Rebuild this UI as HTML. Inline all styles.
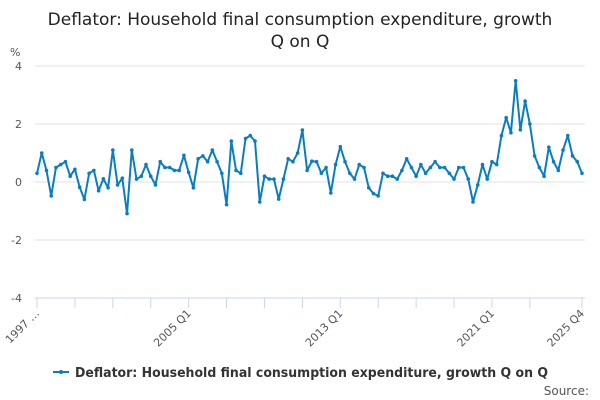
<!DOCTYPE html>
<html><head><meta charset="utf-8"><style>
html,body{margin:0;padding:0;background:#fff;width:600px;height:400px;overflow:hidden}
text{font-family:"DejaVu Sans","Liberation Sans",sans-serif}
</style></head><body>
<svg id="chart" width="600" height="400" xmlns="http://www.w3.org/2000/svg">
<text x="300" y="25" text-anchor="middle" font-size="17" fill="#222">Deflator: Household final consumption expenditure, growth</text>
<text x="300" y="47" text-anchor="middle" font-size="17" fill="#222">Q on Q</text>
<text x="10" y="56" font-size="11" fill="#555">%</text>
<g id="grid"></g><g id="xaxis"></g><g id="series"></g>
<g>
<line x1="53" y1="372" x2="69" y2="372" stroke="#0a7dc1" stroke-width="2"/>
<circle cx="61" cy="372" r="2" fill="#0a7dc1"/>
<text x="75" y="377" font-size="13" font-weight="bold" fill="#333" textLength="473" lengthAdjust="spacingAndGlyphs">Deflator: Household final consumption expenditure, growth Q on Q</text>
</g>
<text x="589" y="395" text-anchor="end" font-size="12" fill="#555">Source:</text>
</svg>
<script>
const values=[0.3,1.0,0.4,-0.48,0.5,0.6,0.7,0.2,0.44,-0.18,-0.6,0.3,0.4,-0.3,0.11,-0.2,1.1,-0.1,0.13,-1.09,1.1,0.1,0.2,0.6,0.2,-0.1,0.7,0.5,0.5,0.4,0.4,0.92,0.33,-0.2,0.8,0.9,0.7,1.1,0.7,0.3,-0.78,1.41,0.4,0.3,1.5,1.6,1.41,-0.69,0.2,0.1,0.1,-0.59,0.1,0.8,0.7,1.0,1.79,0.4,0.72,0.7,0.3,0.5,-0.38,0.6,1.22,0.7,0.3,0.1,0.6,0.5,-0.2,-0.4,-0.48,0.3,0.2,0.2,0.1,0.4,0.8,0.5,0.2,0.6,0.3,0.5,0.7,0.5,0.5,0.3,0.1,0.5,0.5,0.1,-0.69,-0.1,0.6,0.1,0.7,0.6,1.6,2.22,1.7,3.49,1.8,2.79,2.0,0.9,0.5,0.2,1.2,0.7,0.4,1.1,1.6,0.9,0.7,0.3];
const yTicks=[4,2,0,-2,-4];
const xLabels=[[0,"1997 \u2026"],[32,"2005 Q1"],[64,"2013 Q1"],[96,"2021 Q1"],[115,"2025 Q4"]];
const tickIdx=[0,8,16,24,32,40,48,56,64,72,80,88,96,104,115];
const NS="http://www.w3.org/2000/svg";
const x0=37,x1=582,yTop=66,yBot=298;
const xs=i=>x0+i*(x1-x0)/(values.length-1);
const ys=v=>yTop+(4-v)*(yBot-yTop)/8;
function mk(t,a,p){const e=document.createElementNS(NS,t);for(const k in a)e.setAttribute(k,a[k]);p.appendChild(e);return e;}
const grid=document.getElementById('grid');
yTicks.forEach(v=>{
 if(v!==-4){const l=mk('line',{x1:35,x2:585,y1:ys(v),y2:ys(v),stroke:'#e0e0e0','stroke-width':1},grid);
 
 }
 const t=mk('text',{x:22,y:ys(v)+4,'text-anchor':'end','font-size':11,fill:'#555'},grid);
 
 
 t.textContent=v;
});
const xa=document.getElementById('xaxis');
const ax=mk('line',{x1:35,x2:585,y1:yBot,y2:yBot,stroke:'#ccd6eb','stroke-width':1},xa);


tickIdx.forEach(i=>{const l=mk('line',{x1:xs(i),x2:xs(i),y1:yBot,y2:yBot+10,stroke:'#ccd6eb'},xa);
 
 });
xLabels.forEach(([i,s])=>{const t=mk('text',{x:xs(i)+3,y:yBot+16,'text-anchor':'end','font-size':11,fill:'#555',transform:`rotate(-45 ${xs(i)+3} ${yBot+16})`},xa);
 
 
 t.textContent=s;});
const sg=document.getElementById('series');
const pl=mk('polyline',{points:values.map((v,i)=>xs(i)+','+ys(v)).join(' '),fill:'none',stroke:'#0a7dc1','stroke-width':2,'stroke-linejoin':'round'},sg);


values.forEach((v,i)=>{const c=mk('circle',{cx:xs(i),cy:ys(v),r:1.8,fill:'#0a7dc1'},sg);
 
 });
</script>
</body></html>
